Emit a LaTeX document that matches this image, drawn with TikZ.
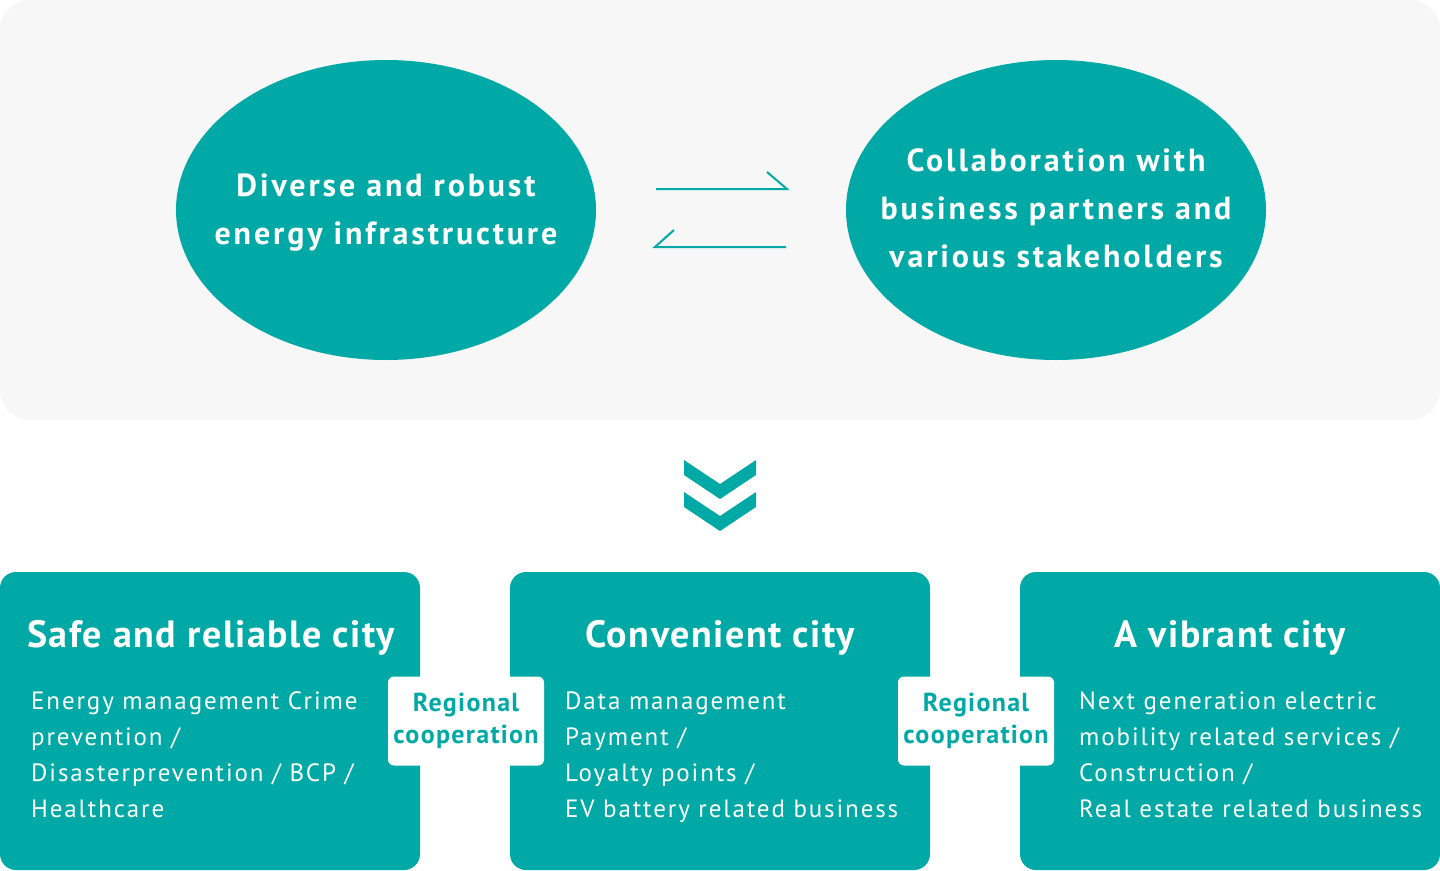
\documentclass[tikz,border=0pt]{standalone}
\usepackage{fontspec}
\setmainfont{PT Sans}
\usetikzlibrary{shapes.geometric,positioning}

\definecolor{cityteal}{HTML}{00A9A5}
\definecolor{panelgray}{HTML}{F7F7F7}

\tikzset{
    hub/.style={ellipse, fill=cityteal, minimum width=420pt, minimum height=300pt, inner sep=0pt},
    hubtext/.style={text=white, inner sep=0pt, align=center,
        font=\fontsize{32}{48}\selectfont\bfseries\addfontfeatures{LetterSpace=9}},
    citybox/.style={fill=cityteal, rounded corners=16pt, minimum width=420pt, minimum height=298pt, inner sep=0pt},
    citytitle/.style={text=white, inner sep=0pt, font=\fontsize{38}{40}\selectfont\bfseries\addfontfeatures{LetterSpace=4}},
    citytext/.style={text=white, inner sep=0pt, align=left, anchor=west,
        font=\fontsize{25}{36}\selectfont\addfontfeatures{LetterSpace=7.5}},
    linkbox/.style={fill=white, rounded corners=6pt, minimum width=156pt, minimum height=89pt, inner sep=0pt,
        text=cityteal, align=center, font=\fontsize{26}{32}\selectfont\bfseries\addfontfeatures{LetterSpace=5}},
    swap/.style={draw=cityteal, line width=2pt}
}

\begin{document}
\begin{tikzpicture}[x=1pt, y=-1pt]
    \useasboundingbox (0,0) rectangle (1440,870);

    % Top panel
    \fill[panelgray, rounded corners=30pt] (0,0) rectangle (1440,420);

    % Two hubs
    \node[hub] (energy) at (386,210) {};
    \node[hub] (partners) at (1056,210) {};
    \node[hubtext] (energytext) at (386,213) {Diverse and robust\\energy infrastructure};
    \node[hubtext] (partnerstext) at (1056,208) {Collaboration with\\business partners and\\various stakeholders};

    % Exchange arrows
    \coordinate (fwda) at (656,189);
    \coordinate (fwdb) at (787,189);
    \coordinate (backa) at (786,247);
    \coordinate (backb) at (655,247);
    \draw[swap] (fwda) -- (fwdb) -- ++(-20,-17);
    \draw[swap] (backa) -- (backb) -- ++(19,-17);

    % Double chevron
    \foreach \dy in {0,32}
        \fill[cityteal] (684,460+\dy) -- (720,484+\dy) -- (756,460+\dy) -- (756,475+\dy)
            -- (720,499+\dy) -- (684,475+\dy) -- cycle;

    % Three cities
    \node[citybox] (safe) at (210,721) {};
    \node[citybox] (convenient) at (720,721) {};
    \node[citybox] (vibrant) at (1230,721) {};

    \node[citytitle] (safetitle) at (211,638) {Safe and reliable city};
    \node[citytitle] (convtitle) at (720,638) {Convenient city};
    \node[citytitle] (vibtitle) at (1230,638) {A vibrant city};

    \node[citytext] (safetext) at (31,755) {Energy management Crime\\prevention /\\Disasterprevention / BCP /\\Healthcare};
    \node[citytext] (convtext) at (565,757) {Data management\\Payment /\\Loyalty points /\\EV battery related business};
    \node[citytext] (vibtext) at (1079,755) {Next generation electric\\mobility related services /\\Construction /\\Real estate related business};

    % Regional cooperation links
    \node[linkbox] (linka) at (466,721) {Regional\\cooperation};
    \node[linkbox] (linkb) at (976,721) {Regional\\cooperation};
\end{tikzpicture}
\end{document}
